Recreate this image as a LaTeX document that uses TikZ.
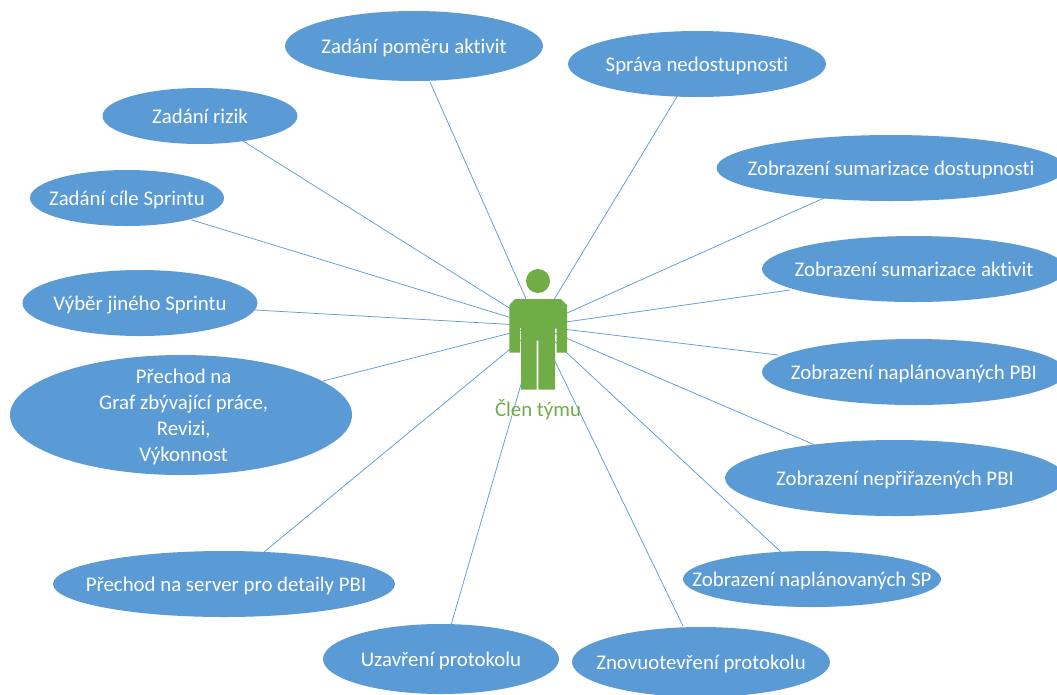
\documentclass[tikz,border=0pt]{standalone}
\usepackage{fontspec}
\setmainfont[Ligatures=NoCommon]{Carlito}
\usetikzlibrary{shapes.geometric}
\definecolor{uc}{HTML}{5B9BD5}
\definecolor{act}{HTML}{70AD47}
\definecolor{ln}{HTML}{5B9BD5}
\tikzset{x=0.0264583cm,y=-0.0264583cm,
 uce/.style={ellipse,fill=uc,draw=none,inner sep=0pt,text=white,font=\fontsize{15.7pt}{19.5pt}\selectfont},
 conn/.style={draw=ln,line width=0.55pt}}
\newcommand{\UC}[7][0pt]{\node[uce,minimum width=#5*0.0264583cm,minimum height=#6*0.0264583cm] (#2) at (#3,#4) {\raisebox{-5.9pt}[0pt][0pt]{\makebox[0pt]{\hspace{#1}#7}}};}
\begin{document}
\begin{tikzpicture}
\useasboundingbox (0,0) rectangle (1057,694);
\fill[white] (0,0) rectangle (1057,694);
\coordinate (hub) at (538,326);
\coordinate (e1) at (430,82);
\coordinate (e2) at (678,95);
\coordinate (e3) at (243,141);
\coordinate (e4) at (824,198);
\coordinate (e5) at (192,220);
\coordinate (e6) at (790,290);
\coordinate (e7) at (255,310);
\coordinate (e8) at (778,355);
\coordinate (e9) at (323,381);
\coordinate (e10) at (815,445);
\coordinate (e11) at (264,552);
\coordinate (e12) at (781,552);
\coordinate (e13) at (451,625);
\coordinate (e14) at (683,626);
\foreach \i in {1,...,14}{\draw[conn] (hub) -- (e\i);}
\UC{a}{414}{46}{258}{70}{Zadání poměru aktivit}
\UC{b}{697}{64}{258}{66}{Správa nedostupnosti}
\UC{c}{200}{116}{195}{56}{Zadání rizik}
\UC{d}{891}{168}{349}{66}{Zobrazení sumarizace dostupnosti}
\UC{e}{127}{198}{194}{56}{Zadání cíle Sprintu}
\UC{f}{914}{269}{304}{66}{Zobrazení sumarizace aktivit}
\UC{g}{140}{303}{235}{66}{Výběr jiného Sprintu}
\UC{h}{914}{372}{304}{66}{Zobrazení naplánovaných PBI}
\node[uce,minimum width=342*0.0264583cm,minimum height=120*0.0264583cm] (i) at (181,415) {\raisebox{-5.5pt}[0pt][0pt]{\makebox[0pt]{\hspace{4pt}\begin{tabular}{@{}c@{}}Přechod na\\Graf zbývající práce,\\Revizi,\\Výkonnost\end{tabular}}}};
\UC{j}{895}{478}{340}{76}{Zobrazení nepřiřazených PBI}
\UC[3pt]{k}{224}{584}{342}{66}{Přechod na server pro detaily PBI}
\UC{l}{812}{579}{258}{56}{Zobrazení naplánovaných SP}
\UC{m}{441}{659}{236}{70}{Uzavření protokolu}
\UC{n}{701}{662}{258}{70}{Znovuotevření protokolu}
\fill[act] (538,281) circle (12);
\fill[act] (515,299) -- (561,299) -- (567,305) -- (567,352.7) -- (556.7,352.7) -- (556.7,328) -- (555,328) -- (555,389.5) -- (538.3,389.5) -- (538.3,340.7) -- (536.7,340.7) -- (536.7,389.5) -- (521,389.5) -- (521,328) -- (520,328) -- (520,352.7) -- (509.3,352.7) -- (509.3,305) -- cycle;
\node[text=act,font=\fontsize{15.7pt}{19pt}\selectfont,inner sep=0pt] (actor) at (538,410) {Člen týmu};
\end{tikzpicture}
\end{document}
